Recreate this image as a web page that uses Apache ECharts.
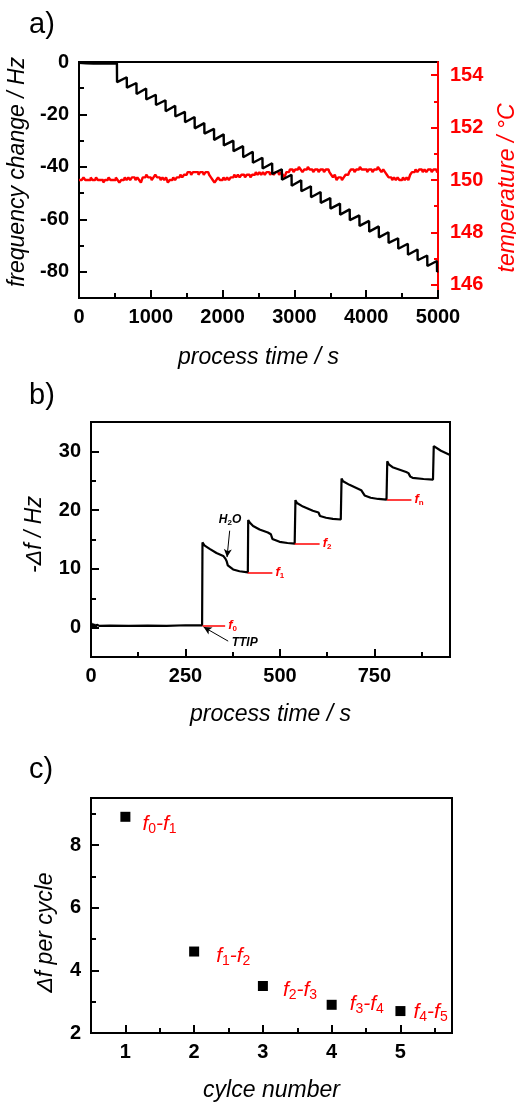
<!DOCTYPE html>
<html>
<head>
<meta charset="utf-8">
<script src="https://cdn.jsdelivr.net/npm/echarts@6/dist/echarts.min.js"></script>
<style>
  html, body { margin: 0; padding: 0; background: #ffffff; }
  #chart { width: 516px; height: 1102px; }
</style>
</head>
<body>
<div id="chart"></div>
<script>
// ---- (a) frequency change and reactor temperature over the whole run ----
const aTime = [0, 100, 200, 300, 400, 528,
  530, 665, 667, 800, 802, 935, 937, 1070, 1072, 1205, 1207, 1340, 1342, 1475, 1477,
  1610, 1612, 1745, 1747, 1880, 1882, 2015, 2017, 2150, 2152, 2285, 2287, 2420, 2422,
  2555, 2557, 2690, 2692, 2825, 2827, 2960, 2962, 3095, 3097, 3230, 3232, 3365, 3367,
  3500, 3502, 3635, 3637, 3770, 3772, 3905, 3907, 4040, 4042, 4175, 4177, 4310, 4312,
  4445, 4447, 4580, 4582, 4715, 4717, 4850, 4852, 4985, 4987, 5000];
const aFreq = [-0.3, -0.5, -0.6, -0.5, -0.6, -0.5,
  -7.7, -5.8, -9.8, -8.0, -12.2, -10.1, -14.3, -12.5, -16.4, -14.6, -18.8, -16.7, -20.8, -19.0, -23.0,
  -21.0, -25.3, -23.3, -27.3, -25.5, -29.7, -27.6, -31.8, -30.0, -34.0, -32.1, -36.3, -34.2, -38.4,
  -36.5, -40.6, -38.6, -42.7, -40.9, -44.9, -43.0, -47.2, -45.1, -49.3, -47.4, -51.6, -49.6, -53.7,
  -51.9, -55.9, -54.0, -58.2, -56.2, -60.3, -58.5, -62.5, -60.6, -64.7, -62.7, -66.9, -64.9, -69.0,
  -67.2, -71.2, -69.3, -73.5, -71.5, -75.6, -73.8, -77.8, -75.9, -80.0, -79.7];

const tempTime = [
  0, 25, 50, 75, 100, 125, 150, 175, 200, 225, 250, 275, 300, 325, 350, 375, 400, 425, 450, 475,
  500, 525, 550, 575, 600, 625, 650, 675, 700, 725, 750, 775, 800, 825, 850, 875, 900, 925, 950, 975,
  1000, 1025, 1050, 1075, 1100, 1125, 1150, 1175, 1200, 1225, 1250, 1275, 1300, 1325, 1350, 1375, 1400, 1425, 1450, 1475,
  1500, 1525, 1550, 1575, 1600, 1625, 1650, 1675, 1700, 1725, 1750, 1775, 1800, 1825, 1850, 1875, 1900, 1925, 1950, 1975,
  2000, 2025, 2050, 2075, 2100, 2125, 2150, 2175, 2200, 2225, 2250, 2275, 2300, 2325, 2350, 2375, 2400, 2425, 2450, 2475,
  2500, 2525, 2550, 2575, 2600, 2625, 2650, 2675, 2700, 2725, 2750, 2775, 2800, 2825, 2850, 2875, 2900, 2925, 2950, 2975,
  3000, 3025, 3050, 3075, 3100, 3125, 3150, 3175, 3200, 3225, 3250, 3275, 3300, 3325, 3350, 3375, 3400, 3425, 3450, 3475,
  3500, 3525, 3550, 3575, 3600, 3625, 3650, 3675, 3700, 3725, 3750, 3775, 3800, 3825, 3850, 3875, 3900, 3925, 3950, 3975,
  4000, 4025, 4050, 4075, 4100, 4125, 4150, 4175, 4200, 4225, 4250, 4275, 4300, 4325, 4350, 4375, 4400, 4425, 4450, 4475,
  4500, 4525, 4550, 4575, 4600, 4625, 4650, 4675, 4700, 4725, 4750, 4775, 4800, 4825, 4850, 4875, 4900, 4925, 4950, 4975,
  5000];
const tempValue = [
  150.0, 150.0, 150.0, 150.1, 150.0, 150.0, 150.0, 150.1, 150.0, 150.0, 150.1, 150.0, 150.0, 150.0, 149.9, 150.0, 150.0, 150.1, 150.0, 150.0,
  150.0, 150.1, 150.0, 149.9, 150.0, 150.0, 150.1, 150.0, 150.1, 150.0, 150.1, 150.1, 150.0, 150.1, 150.0, 149.9, 150.1, 150.1, 150.2, 150.1,
  150.1, 150.0, 150.1, 150.2, 150.1, 150.1, 150.0, 150.1, 150.0, 150.1, 149.9, 150.0, 150.0, 150.1, 150.0, 150.1, 150.1, 150.2, 150.1, 150.2,
  150.2, 150.3, 150.3, 150.2, 150.3, 150.3, 150.3, 150.2, 150.3, 150.3, 150.2, 150.3, 150.3, 150.2, 150.1, 150.0, 149.9, 150.0, 150.1, 150.0,
  150.0, 150.1, 150.0, 150.1, 150.0, 150.1, 150.1, 150.2, 150.1, 150.2, 150.1, 150.2, 150.2, 150.1, 150.2, 150.2, 150.1, 150.2, 150.2, 150.3,
  150.2, 150.3, 150.2, 150.3, 150.2, 150.3, 150.3, 150.2, 150.3, 150.2, 150.3, 150.3, 150.2, 150.3, 150.2, 150.1, 150.3, 150.3, 150.4, 150.4,
  150.3, 150.4, 150.4, 150.5, 150.4, 150.3, 150.4, 150.4, 150.5, 150.4, 150.4, 150.3, 150.4, 150.4, 150.3, 150.4, 150.4, 150.3, 150.4, 150.4,
  150.3, 150.2, 150.1, 150.2, 150.0, 150.1, 150.1, 150.0, 150.1, 150.2, 150.2, 150.3, 150.4, 150.4, 150.3, 150.4, 150.4, 150.5, 150.4, 150.4,
  150.4, 150.3, 150.4, 150.4, 150.3, 150.4, 150.4, 150.5, 150.4, 150.3, 150.4, 150.3, 150.2, 150.1, 150.1, 150.0, 150.1, 150.0, 150.1, 150.0,
  150.0, 150.1, 150.0, 150.1, 150.0, 150.2, 150.3, 150.3, 150.4, 150.3, 150.4, 150.4, 150.3, 150.4, 150.3, 150.4, 150.4, 150.3, 150.4, 150.4,
  150.3];

const aXMajor = [0, 1000, 2000, 3000, 4000, 5000];
const aXMinor = [500, 1500, 2500, 3500, 4500];
const aYMajor = [-80, -60, -40, -20, 0];
const aYMinor = [-90, -70, -50, -30, -10];
const aTMajor = [146, 148, 150, 152, 154];
const aTMinor = [147, 149, 151, 153];

// ---- (b) first ALD cycles: TTIP / H2O pulses ----
const bTime = [0, 2, 4, 6, 9, 12, 16, 22, 50, 100, 150, 200, 250, 294,
  295, 300, 314, 332, 350, 356, 359, 362, 376, 393, 415,
  416, 420, 429, 446, 468, 476, 480, 499, 520, 539,
  541, 545, 561, 587, 602, 606, 622, 640, 661,
  663, 667, 684, 715, 720, 724, 740, 760, 782,
  784, 788, 798, 834, 840, 845, 851, 880, 905,
  907, 911, 926, 950];
const bFreq = [0.9, -0.1, 0.7, 0.0, 0.6, 0.1, 0.5, 0.3, 0.35, 0.3, 0.35, 0.3, 0.4, 0.4,
  14.5, 14.0, 13.4, 12.7, 12.2, 11.7, 11.3, 10.6, 9.9, 9.6, 9.4,
  18.3, 17.9, 17.3, 16.7, 16.2, 15.9, 15.1, 14.6, 14.4, 14.3,
  21.7, 21.2, 20.6, 19.9, 19.6, 19.0, 18.7, 18.5, 18.4,
  25.4, 24.9, 24.3, 23.4, 23.1, 22.5, 22.1, 21.9, 21.8,
  28.3, 27.8, 27.3, 26.5, 26.3, 25.7, 25.5, 25.3, 25.2,
  30.9, 30.6, 30.1, 29.4];

// reference levels f0, f1, f2, fn taken at the end of each purge
const fName = ['0', '1', '2', 'n'];
const fLevel = [0.4, 9.4, 14.3, 21.8];
const fStart = [295, 415, 539, 783];
const fEnd = [355, 480, 605, 848];

// pulse markers: arrow tail and head in (time, -Δf)
const h2oFrom = [367, 16.5];
const h2oTo = [360, 12.0];
const ttipFrom = [363, -2.3];
const ttipTo = [298, 0.1];

const bXMajor = [0, 250, 500, 750];
const bXMinor = [125, 375, 625, 875];
const bYMajor = [0, 10, 20, 30];
const bYMinor = [5, 15, 25];

// ---- (c) frequency change per cycle ----
const cCycle = [1, 2, 3, 4, 5];
const cDelta = [8.9, 4.6, 3.5, 2.9, 2.7];
const cFrom = ['0', '1', '2', '3', '4'];
const cTo = ['1', '2', '3', '4', '5'];

const cXMajor = [1, 2, 3, 4, 5];
const cXMinor = [1.5, 2.5, 3.5, 4.5, 5.5];
const cYMajor = [2, 4, 6, 8];
const cYMinor = [3, 5, 7, 9];

// ---- styling ----
const FONT = "'Liberation Sans', Arial, sans-serif";
const BLACK = '#000000';
const RED = '#ff0000';
const cLabelNudge = [[7, 7], [12, 5], [10, 4], [8, -1], [3, 1]];

function majorAxis(o) {
  return {
    type: 'value', gridIndex: o.grid, position: o.position, min: o.min, max: o.max,
    axisLine: { show: true, onZero: false, lineStyle: { color: o.color, width: 2 } },
    axisTick: { show: true, inside: true, length: o.tickLen, customValues: o.majors,
      lineStyle: { color: o.color, width: 2 } },
    axisLabel: { show: true, customValues: o.majors, margin: o.margin, color: o.color,
      fontFamily: FONT, fontSize: 20, fontWeight: 'bold', formatter: v => String(v) },
    splitLine: { show: false },
    name: o.name, nameLocation: 'middle', nameGap: o.nameGap, nameRotate: o.nameRotate,
    nameTextStyle: { fontFamily: FONT, fontSize: 23, fontStyle: 'italic', color: o.color,
      padding: o.namePadding || 0 }
  };
}
// second axis on the same side, carrying only the short intermediate ticks
function minorAxis(o) {
  return {
    type: 'value', gridIndex: o.grid, position: o.position, min: o.min, max: o.max,
    axisLine: { show: false, onZero: false }, axisLabel: { show: false }, splitLine: { show: false },
    axisTick: { show: true, inside: true, length: o.tickLen, customValues: o.minors,
      lineStyle: { color: o.color, width: 2 } }
  };
}

const gridBase = { show: true, borderColor: BLACK, borderWidth: 2, backgroundColor: 'transparent',
  containLabel: false, outerBoundsMode: 'none' };

const subRich = (size, sub, color, bold) => ({
  f: { fontFamily: FONT, fontStyle: 'italic', fontWeight: bold ? 'bold' : 'normal', fontSize: size,
       color: color, lineHeight: Math.round(size * 1.15) },
  s: { fontFamily: FONT, fontWeight: bold ? 'bold' : 'normal', fontSize: sub, color: color,
       lineHeight: Math.round(sub * 0.7), verticalAlign: 'bottom' }
});

const option = {
  animation: false,
  backgroundColor: '#ffffff',
  textStyle: { fontFamily: FONT },
  title: [
    { text: 'a)', left: 29, top: 10, padding: 0, textStyle: { fontFamily: FONT, fontSize: 29, fontWeight: 'normal', color: BLACK } },
    { text: 'b)', left: 29, top: 381, padding: 0, textStyle: { fontFamily: FONT, fontSize: 29, fontWeight: 'normal', color: BLACK } },
    { text: 'c)', left: 29, top: 755, padding: 0, textStyle: { fontFamily: FONT, fontSize: 29, fontWeight: 'normal', color: BLACK } }
  ],
  grid: [
    Object.assign({ left: 79, top: 62, width: 359, height: 236 }, gridBase),
    Object.assign({ left: 91, top: 422, width: 359, height: 235 }, gridBase),
    Object.assign({ left: 91, top: 798, width: 361, height: 235 }, gridBase)
  ],
  xAxis: [
    majorAxis({ grid: 0, position: 'bottom', min: 0, max: 5000, majors: aXMajor, color: BLACK, tickLen: 8,
      margin: 9, name: 'process time / s', nameGap: 48 }),
    minorAxis({ grid: 0, position: 'bottom', min: 0, max: 5000, minors: aXMinor, color: BLACK, tickLen: 5 }),
    majorAxis({ grid: 1, position: 'bottom', min: 0, max: 950, majors: bXMajor, color: BLACK, tickLen: 8,
      margin: 9, name: 'process time / s', nameGap: 46 }),
    minorAxis({ grid: 1, position: 'bottom', min: 0, max: 950, minors: bXMinor, color: BLACK, tickLen: 5 }),
    majorAxis({ grid: 2, position: 'bottom', min: 0.5, max: 5.75, majors: cXMajor, color: BLACK, tickLen: 8,
      margin: 9, name: 'cylce number', nameGap: 46 }),
    minorAxis({ grid: 2, position: 'bottom', min: 0.5, max: 5.75, minors: cXMinor, color: BLACK, tickLen: 5 })
  ],
  yAxis: [
    majorAxis({ grid: 0, position: 'left', min: -90, max: 0, majors: aYMajor, color: BLACK, tickLen: 8,
      margin: 10, name: 'frequency change / Hz', nameGap: 44, nameRotate: 90, namePadding: [0, 0, 0, 16] }),
    minorAxis({ grid: 0, position: 'left', min: -90, max: 0, minors: aYMinor, color: BLACK, tickLen: 5 }),
    majorAxis({ grid: 0, position: 'right', min: 145.5, max: 154.5, majors: aTMajor, color: RED, tickLen: 7,
      margin: 12, name: 'temperature / °C', nameGap: 58, nameRotate: 90, namePadding: [0, 16, 0, 0] }),
    minorAxis({ grid: 0, position: 'right', min: 145.5, max: 154.5, minors: aTMinor, color: RED, tickLen: 4 }),
    majorAxis({ grid: 1, position: 'left', min: -5, max: 35, majors: bYMajor, color: BLACK, tickLen: 8,
      margin: 10, name: '-Δf / Hz', nameGap: 45, nameRotate: 90, namePadding: [0, 0, 0, 10] }),
    minorAxis({ grid: 1, position: 'left', min: -5, max: 35, minors: bYMinor, color: BLACK, tickLen: 5 }),
    majorAxis({ grid: 2, position: 'left', min: 2, max: 9.5, majors: cYMajor, color: BLACK, tickLen: 8,
      margin: 10, name: 'Δf per cycle', nameGap: 34, nameRotate: 90, namePadding: [0, 34, 0, 0] }),
    minorAxis({ grid: 2, position: 'left', min: 2, max: 9.5, minors: cYMinor, color: BLACK, tickLen: 5 })
  ],
  series: [
    {
      name: 'temperature', type: 'line', xAxisIndex: 0, yAxisIndex: 2,
      data: tempTime.map((t, i) => [t, tempValue[i]]),
      step: 'middle', showSymbol: false, silent: true,
      lineStyle: { color: RED, width: 2.4 }
    },
    {
      name: 'frequency change', type: 'line', xAxisIndex: 0, yAxisIndex: 0,
      data: aTime.map((t, i) => [t, aFreq[i]]),
      showSymbol: false, silent: true,
      lineStyle: { color: BLACK, width: 2.4 }
    },
    {
      name: '-Δf', type: 'line', xAxisIndex: 2, yAxisIndex: 4,
      data: bTime.map((t, i) => [t, bFreq[i]]),
      showSymbol: false, silent: true,
      lineStyle: { color: BLACK, width: 2.2 },
      markLine: {
        silent: true, animation: false, symbol: ['none', 'none'],
        data: fName.map((n, i) => [
          { coord: [fStart[i], fLevel[i]],
            lineStyle: { color: RED, width: 1.5, type: 'solid' },
            label: { show: true, position: 'end', distance: 3, formatter: '{f|f}{s|' + n + '}',
                     rich: subRich(13, 8, RED, true) } },
          { coord: [fEnd[i], fLevel[i]] }
        ]).concat([
          [
            { coord: h2oFrom, symbol: 'none',
              lineStyle: { color: BLACK, width: 1, type: 'solid' },
              label: { show: true, position: 'start', distance: 4, formatter: '{f|H}{s|2}{f|O}',
                       rich: subRich(12, 8, BLACK, true) } },
            { coord: h2oTo, symbol: 'arrow', symbolSize: [6, 8] }
          ],
          [
            { coord: ttipFrom, symbol: 'none',
              lineStyle: { color: BLACK, width: 1, type: 'solid' },
              label: { show: true, position: 'start', distance: 4, formatter: '{f|TTIP}',
                       rich: subRich(12, 8, BLACK, true) } },
            { coord: ttipTo, symbol: 'arrow', symbolSize: [6, 8] }
          ]
        ])
      }
    },
    {
      name: 'Δf per cycle', type: 'scatter', xAxisIndex: 4, yAxisIndex: 6,
      symbol: 'rect', symbolSize: 10, silent: true,
      itemStyle: { color: BLACK, opacity: 1 },
      data: cCycle.map((c, i) => ({ value: [c, cDelta[i]], label: { offset: cLabelNudge[i] } })),
      label: {
        show: true, position: 'right',
        formatter: p => '{f|f}{s|' + cFrom[p.dataIndex] + '}{f|-f}{s|' + cTo[p.dataIndex] + '}',
        rich: subRich(21, 14, RED, false)
      }
    }
  ]
};

const chart = echarts.init(document.getElementById('chart'), null, { renderer: 'canvas' });
chart.setOption(option);
</script>
</body>
</html>
